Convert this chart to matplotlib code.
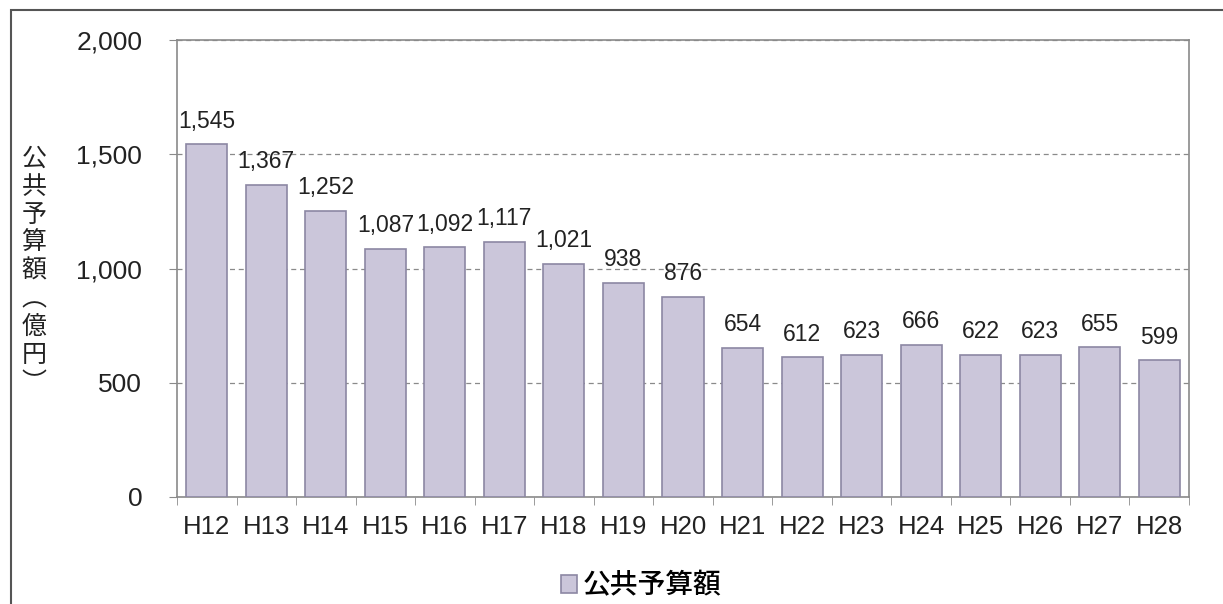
import matplotlib.pyplot as plt
import numpy as np
from matplotlib.patches import Rectangle

plt.rcParams["font.family"] = ["Liberation Sans", "Noto Sans CJK JP", "DejaVu Sans"]

years = ["H12", "H13", "H14", "H15", "H16", "H17", "H18", "H19", "H20",
         "H21", "H22", "H23", "H24", "H25", "H26", "H27", "H28"]
budget = [1545, 1367, 1252, 1087, 1092, 1117, 1021, 938, 876,
          654, 612, 623, 666, 622, 623, 655, 599]
series_name = "公共予算額"

bar_color = "#cbc6da"
edge_color = "#8c87a3"
grid_color = "#8a8a8a"
text_color = "#222222"

fig = plt.figure(figsize=(12.23, 6.04), dpi=100)
ax = fig.add_axes([177 / 1223, 1 - 497 / 604, (1189 - 177) / 1223, (497 - 40) / 604])

x = np.arange(len(years))
bars = ax.bar(x, budget, width=0.69, color=bar_color, edgecolor=edge_color,
              linewidth=1.2, label=series_name, zorder=3)

for xi, v in zip(x, budget):
    ax.text(xi, v + 50, f"{v:,}", ha="center", va="bottom", fontsize=16.5, color=text_color)

ax.set_xlim(-0.5, len(years) - 0.5)
ax.set_ylim(0, 2000)
yt = [0, 500, 1000, 1500, 2000]
ax.set_yticks(yt)
ax.set_yticklabels([f"{t:,}" for t in yt], fontsize=19, color=text_color)
ax.set_xticks(x)
ax.set_xticklabels(years, fontsize=18.5, color=text_color)
ax.tick_params(axis="x", length=0, pad=13)
ax.set_xticks(np.arange(-0.5, len(years)), minor=True)
ax.tick_params(axis="x", which="minor", length=6, color=grid_color, direction="out")
ax.tick_params(axis="y", length=6, color=grid_color, direction="out", pad=19)

ax.yaxis.grid(True, linestyle=(0, (4, 3)), color=grid_color, linewidth=0.9, zorder=0)
for s in ax.spines.values():
    s.set_color(grid_color)
    s.set_linewidth(1.2)

# vertical y-axis label, one character per line
fig.text(34 / 1223, 1 - 271 / 604, "公\n共\n予\n算\n額\n︵\n億\n円\n︶", ha="center", va="center",
         fontsize=18, linespacing=1.1, family=["Noto Sans CJK JP", "DejaVu Sans"], color=text_color)

fig.legend(handles=[bars], labels=[series_name], loc="center",
           bbox_to_anchor=(641 / 1223, 1 - 585 / 604), frameon=False,
           handlelength=0.6, handleheight=0.6, handletextpad=0.2,
           prop={"family": ["Noto Sans CJK JP"], "size": 20, "weight": "medium"})

# outer frame of the scanned chart
fig.patches.append(Rectangle((11 / 1223, -0.05), 1.2, 1 - 10 / 604 + 0.05,
                             transform=fig.transFigure, fill=False,
                             edgecolor="#555555", linewidth=1.5))

fig.savefig("out.png", dpi=100)
